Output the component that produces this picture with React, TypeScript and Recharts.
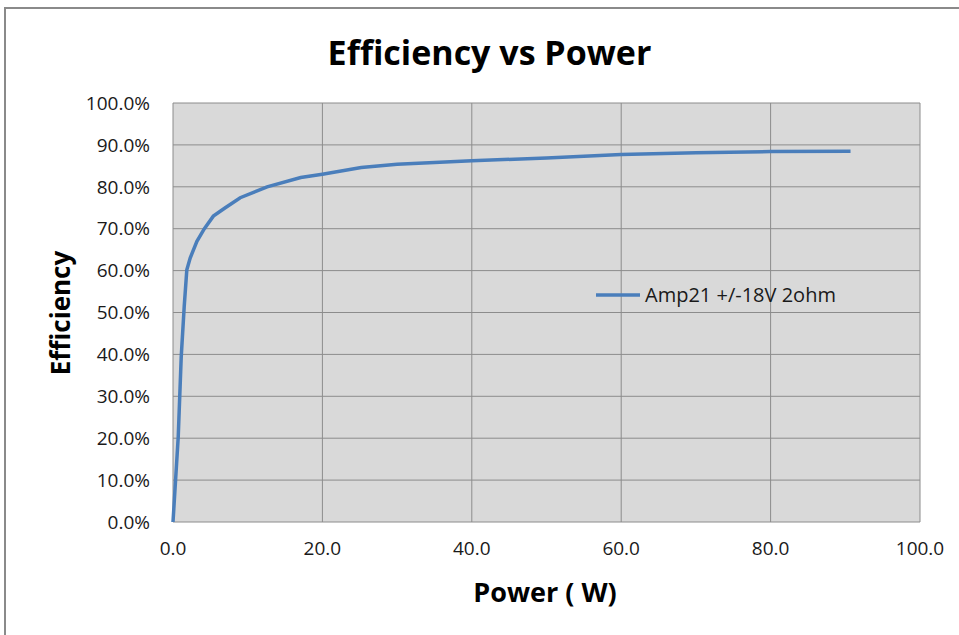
import React from 'react';
import { LineChart, Line, XAxis, YAxis, CartesianGrid, Legend } from 'recharts';

// Amp21 efficiency curve
const power = [0, 0.7, 1.1, 1.5, 1.85, 2.3, 3.2, 4.2, 5.4, 7.0, 9.0, 12.6, 17.1, 20, 25.2, 30, 40, 50, 60, 70, 80, 90.7];
const efficiency = [0, 20.3, 39.4, 51.4, 60.2, 63, 67, 70, 73, 75, 77.4, 80, 82.2, 83, 84.6, 85.4, 86.2, 86.9, 87.7, 88.1, 88.4, 88.5];

const xTicks = [0, 20, 40, 60, 80, 100];
const yTicks = [0, 10, 20, 30, 40, 50, 60, 70, 80, 90, 100];
const seriesName = 'Amp21 +/-18V 2ohm';

const LINE_COLOR = '#4a7ebb';
const GRID_COLOR = '#8c8c8c';
const FONT = '"Open Sans", sans-serif';

const data = power.map((p, i) => ({ power: p, eff: efficiency[i] }));

const renderLegend = () => (
  <div style={{ display: 'flex', alignItems: 'center', fontFamily: FONT, fontSize: 20, color: '#1a1a1a' }}>
    <svg width={48} height={10}>
      <line x1={2} y1={5} x2={46} y2={5} stroke={LINE_COLOR} strokeWidth={3.5} />
    </svg>
    <span style={{ marginLeft: 3 }}>{seriesName}</span>
  </div>
);

export default function App() {
  return (
    <div style={{ position: 'absolute', left: 0, top: 0, width: 959, height: 635, overflow: 'hidden', background: '#fff' }}>
      {/* outer chart frame */}
      <div style={{ position: 'absolute', left: 4, top: 7, width: 1000, height: 700, border: '2px solid #8a8a8a' }} />

      <div style={{ position: 'absolute', left: 0, width: 979, top: 30, textAlign: 'center', fontFamily: FONT, fontWeight: 700, fontSize: 34, color: '#000', lineHeight: '44px' }}>
        Efficiency vs Power
      </div>

      <div style={{ position: 'absolute', left: 0, width: 1090, top: 575, textAlign: 'center', fontFamily: FONT, fontWeight: 700, fontSize: 27, color: '#000', lineHeight: '34px' }}>
        Power ( W)
      </div>

      <div style={{ position: 'absolute', left: 60, top: 313, width: 0, height: 0 }}>
        <div style={{ position: 'absolute', left: -100, top: -17, width: 200, textAlign: 'center', transform: 'rotate(-90deg)', fontFamily: FONT, fontWeight: 700, fontSize: 26, color: '#000', lineHeight: '34px' }}>
          Efficiency
        </div>
      </div>

      <div style={{ position: 'absolute', left: 0, top: 0 }}>
        <LineChart width={959} height={635} data={data} margin={{ top: 103, right: 39, bottom: 53, left: 0 }}>
          <CartesianGrid fill="#d9d9d9" stroke={GRID_COLOR} strokeWidth={1} />
          <XAxis
            type="number"
            dataKey="power"
            domain={[0, 100]}
            ticks={xTicks}
            tickFormatter={(v: number) => v.toFixed(1)}
            height={60}
            axisLine={false}
            tickLine={false}
            tickSize={0}
            tickMargin={20}
            tick={{ fontFamily: FONT, fontSize: 19, fill: '#1a1a1a' }}
          />
          <YAxis
            type="number"
            domain={[0, 100]}
            ticks={yTicks}
            tickFormatter={(v: number) => `${v.toFixed(1)}%`}
            width={173}
            axisLine={false}
            tickLine={false}
            tickSize={0}
            tickMargin={23}
            tick={{ fontFamily: FONT, fontSize: 19, fill: '#1a1a1a' }}
          />
          <Legend
            layout="vertical"
            align="center"
            verticalAlign="middle"
            content={renderLegend}
            wrapperStyle={{ left: 594, top: 281, width: 280 }}
          />
          <Line
            type="linear"
            dataKey="eff"
            name={seriesName}
            stroke={LINE_COLOR}
            strokeWidth={3.5}
            dot={false}
            isAnimationActive={false}
          />
        </LineChart>
      </div>
    </div>
  );
}
